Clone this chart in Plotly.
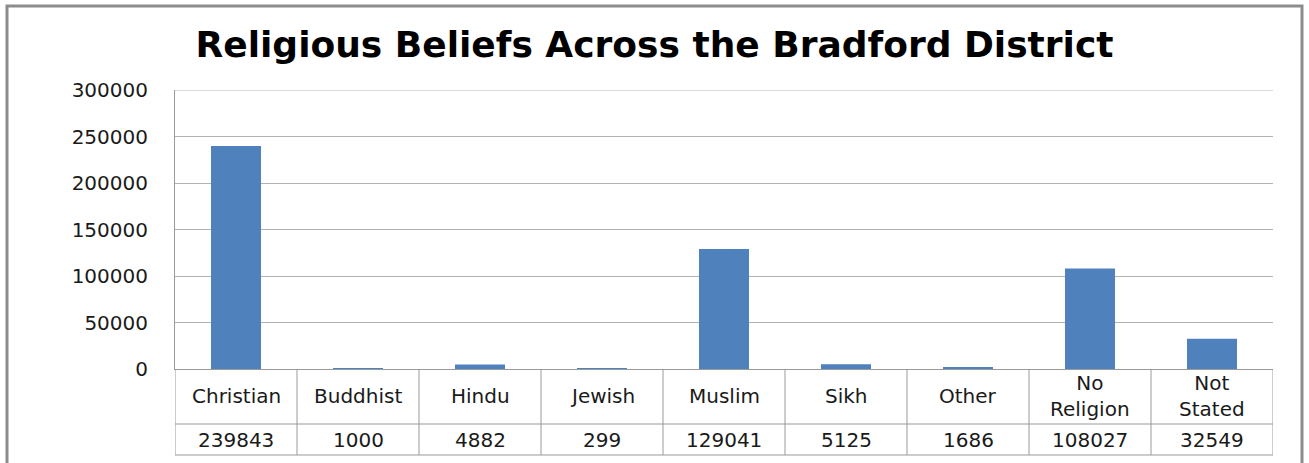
import plotly.graph_objects as go

categories = ["Christian", "Buddhist", "Hindu", "Jewish", "Muslim", "Sikh", "Other", "No Religion", "Not Stated"]
cat_labels = ["Christian", "Buddhist", "Hindu", "Jewish", "Muslim", "Sikh", "Other", "No<br>Religion", "Not<br>Stated"]
values = [239843, 1000, 4882, 299, 129041, 5125, 1686, 108027, 32549]
series_name = "Series1"
y_ticks = [0, 50000, 100000, 150000, 200000, 250000, 300000]

BAR = "#4F81BD"
GRID = "#B3B3B3"
TXT = "#1a1a1a"
FONT = "DejaVu Sans"

W, H = 1309, 463
L, R, T, B = 175, 36, 90, 94
plot_h = H - T - B

def py(px):  # pixel row -> paper y
    return (H - B - px) / plot_h

fig = go.Figure()
fig.add_trace(go.Bar(x=list(range(len(categories))), y=values, width=0.41,
                     marker=dict(color=BAR, line=dict(width=0)), name=series_name,
                     showlegend=False))

shapes = []
annotations = []
n = len(categories)
row1_y = py(424)
row2_y = py(455)
# vertical table lines
for k in range(n + 1):
    shapes.append(dict(type="line", xref="x", yref="paper", x0=k - 0.5, x1=k - 0.5,
                       y0=0, y1=row2_y, line=dict(color="#9A9A9A", width=1)))
shapes.append(dict(type="line", xref="x", yref="paper", x0=-1.5, x1=-1.5,
                   y0=row1_y, y1=row2_y, line=dict(color="#9A9A9A", width=1)))
for yy in (row1_y, row2_y):
    shapes.append(dict(type="line", xref="x", yref="paper", x0=-1.5, x1=n - 0.5,
                       y0=yy, y1=yy, line=dict(color="#9A9A9A", width=1)))
# top gridline (range edge)
shapes.append(dict(type="line", xref="paper", yref="y", x0=0, x1=1,
                   y0=y_ticks[-1], y1=y_ticks[-1], line=dict(color=GRID, width=1)))
# outer chart border
shapes.append(dict(type="rect", xref="paper", yref="paper",
                   x0=(7 - L) / (W - L - R), x1=(1302 - L) / (W - L - R),
                   y0=-0.6, y1=py(6), line=dict(color="#8C8C8C", width=3)))

for i, (lab, v) in enumerate(zip(cat_labels, values)):
    annotations.append(dict(x=i, y=py(396), xref="x", yref="paper", text=lab,
                            showarrow=False, xanchor="center", yanchor="middle",
                            font=dict(family=FONT, size=20, color=TXT)))
    annotations.append(dict(x=i, y=py(440), xref="x", yref="paper", text=str(v),
                            showarrow=False, xanchor="center", yanchor="middle",
                            font=dict(family=FONT, size=20, color=TXT)))
annotations.append(dict(x=-1.45, y=py(440), xref="x", yref="paper",
                        text=f"<span style='color:{BAR}'>■</span> {series_name}",
                        showarrow=False, xanchor="left", yanchor="middle",
                        font=dict(family=FONT, size=20, color=TXT)))

fig.update_layout(
    width=W, height=H,
    margin=dict(l=L, r=R, t=T, b=B),
    paper_bgcolor="white", plot_bgcolor="white",
    title=dict(text="<b>Religious Beliefs Across the Bradford District</b>",
               x=0.5, xanchor="center", y=1 - 44 / H, yanchor="middle",
               font=dict(family=FONT, size=36, color="black")),
    xaxis=dict(range=[-0.5, n - 0.5], showticklabels=False, showgrid=False,
               zeroline=False, showline=True, linecolor="#9A9A9A", linewidth=1,
               fixedrange=True),
    yaxis=dict(range=[0, 300000], tickvals=y_ticks, tickformat="d",
               showgrid=True, gridcolor=GRID, gridwidth=1, zeroline=False,
               showline=True, linecolor="#9A9A9A", linewidth=1,
               ticks="", ticklabelstandoff=22,
               tickfont=dict(family=FONT, size=20, color=TXT)),
    shapes=shapes, annotations=annotations,
    bargap=0.59,
)

fig.write_html("out.html")
